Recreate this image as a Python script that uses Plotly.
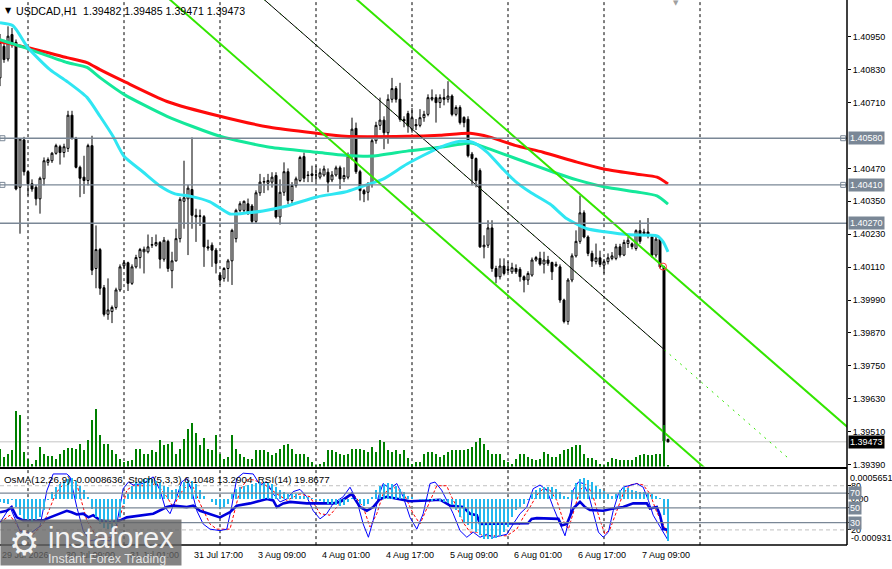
import plotly.graph_objects as go

# ---------------- data ----------------
opens = [1.40800,1.40915,1.40869,1.40958,1.40930,1.40401,1.40574,1.40458,1.40414,1.40401,
1.40359,1.40432,1.40492,1.40498,1.40525,1.40549,1.40528,1.40543,1.40664,1.40579,
1.40474,1.40438,1.40426,1.40553,1.40105,1.40174,1.40035,1.39938,1.39948,1.39963,
1.40027,1.40115,1.40126,1.40051,1.40111,1.40145,1.40166,1.40166,1.40190,1.40190,
1.40200,1.40139,1.40204,1.40097,1.40133,1.40214,1.40350,1.40359,1.40393,1.40299,
1.40295,1.40294,1.40184,1.40190,1.40172,1.40081,1.40069,1.40105,1.40133,1.40214,
1.40317,1.40317,1.40341,1.40333,1.40277,1.40381,1.40420,1.40416,1.40420,1.40444,
1.40293,1.40383,1.40458,1.40353,1.40408,1.40426,1.40513,1.40446,1.40444,1.40446,
1.40438,1.40446,1.40456,1.40428,1.40446,1.40472,1.40432,1.40438,1.40516,1.40616,
1.40458,1.40389,1.40383,1.40414,1.40571,1.40627,1.40646,1.40600,1.40722,1.40761,
1.40722,1.40649,1.40670,1.40613,1.40630,1.40627,1.40655,1.40667,1.40722,1.40728,
1.40710,1.40728,1.40722,1.40734,1.40667,1.40692,1.40656,1.40649,1.40522,1.40506,
1.40462,1.40184,1.40190,1.40253,1.40105,1.40075,1.40114,1.40102,1.40093,1.40105,
1.40102,1.40075,1.40063,1.40081,1.40136,1.40142,1.40121,1.40136,1.40127,1.40115,
1.40111,1.39990,1.39912,1.40063,1.40151,1.40204,1.40308,1.40220,1.40160,1.40130,
1.40144,1.40117,1.40130,1.40142,1.40142,1.40184,1.40154,1.40196,1.40195,1.40178,
1.40243,1.40232,1.40238,1.40220,1.40154,1.40212,1.40111,1.39482]
highs = [1.40960,1.40939,1.40988,1.40982,1.40940,1.40580,1.40585,1.40460,1.40430,1.40410,
1.40440,1.40510,1.40510,1.40530,1.40560,1.40556,1.40560,1.40680,1.40680,1.40585,
1.40480,1.40516,1.40560,1.40589,1.40262,1.40180,1.40045,1.40069,1.39970,1.40035,
1.40120,1.40135,1.40130,1.40120,1.40155,1.40180,1.40185,1.40229,1.40220,1.40229,
1.40205,1.40220,1.40210,1.40166,1.40250,1.40365,1.40498,1.40410,1.40583,1.40323,
1.40320,1.40300,1.40210,1.40200,1.40180,1.40090,1.40110,1.40140,1.40250,1.40323,
1.40350,1.40353,1.40360,1.40340,1.40390,1.40450,1.40438,1.40450,1.40456,1.40456,
1.40430,1.40492,1.40470,1.40420,1.40440,1.40516,1.40528,1.40460,1.40480,1.40480,
1.40470,1.40480,1.40470,1.40460,1.40480,1.40480,1.40474,1.40528,1.40655,1.40637,
1.40465,1.40395,1.40420,1.40580,1.40640,1.40728,1.40660,1.40740,1.40800,1.40770,
1.40782,1.40660,1.40680,1.40690,1.40650,1.40686,1.40680,1.40740,1.40758,1.40740,
1.40740,1.40760,1.40788,1.40740,1.40700,1.40700,1.40660,1.40660,1.40530,1.40510,
1.40470,1.40226,1.40281,1.40281,1.40115,1.40142,1.40142,1.40130,1.40126,1.40120,
1.40110,1.40080,1.40095,1.40145,1.40151,1.40166,1.40166,1.40151,1.40130,1.40130,
1.40120,1.39995,1.40070,1.40160,1.40244,1.40371,1.40317,1.40226,1.40170,1.40196,
1.40170,1.40140,1.40160,1.40165,1.40195,1.40195,1.40210,1.40220,1.40200,1.40248,
1.40281,1.40250,1.40289,1.40230,1.40220,1.40220,1.40115,1.39485]
lows = [1.40770,1.40855,1.40860,1.40910,1.40390,1.40232,1.40444,1.40371,1.40385,1.40335,
1.40305,1.40408,1.40480,1.40490,1.40520,1.40484,1.40510,1.40530,1.40575,1.40470,
1.40365,1.40377,1.40408,1.40081,1.40033,1.40009,1.39930,1.39918,1.39906,1.39955,
1.40020,1.40105,1.40023,1.40045,1.40105,1.40105,1.40087,1.40160,1.40180,1.40185,
1.40105,1.40130,1.40093,1.40033,1.40130,1.40200,1.40250,1.40154,1.40250,1.40202,
1.40260,1.40111,1.40170,1.40111,1.40087,1.40045,1.40057,1.40057,1.40045,1.40200,
1.40310,1.40305,1.40300,1.40270,1.40270,1.40370,1.40380,1.40390,1.40400,1.40287,
1.40265,1.40370,1.40340,1.40340,1.40400,1.40420,1.40420,1.40420,1.40420,1.40420,
1.40430,1.40440,1.40383,1.40420,1.40440,1.40395,1.40420,1.40430,1.40500,1.40450,
1.40353,1.40347,1.40353,1.40400,1.40560,1.40610,1.40540,1.40560,1.40710,1.40710,
1.40640,1.40620,1.40600,1.40600,1.40610,1.40620,1.40640,1.40660,1.40715,1.40637,
1.40690,1.40700,1.40710,1.40660,1.40660,1.40630,1.40620,1.40510,1.40408,1.40401,
1.40180,1.40142,1.40180,1.40093,1.40051,1.40065,1.40080,1.40090,1.40085,1.40085,
1.40057,1.40018,1.40045,1.40075,1.40130,1.40115,1.40087,1.40115,1.40063,1.40110,
1.39980,1.39905,1.39900,1.40055,1.40145,1.40195,1.40215,1.40150,1.40111,1.40120,
1.40110,1.40087,1.40120,1.40135,1.40135,1.40145,1.40150,1.40180,1.40175,1.40170,
1.40195,1.40225,1.40215,1.40145,1.40145,1.40105,1.39470,1.39471]
closes = [1.40930,1.40867,1.40952,1.40921,1.40395,1.40577,1.40458,1.40414,1.40395,1.40359,
1.40434,1.40498,1.40502,1.40525,1.40553,1.40528,1.40549,1.40664,1.40579,1.40474,
1.40434,1.40426,1.40553,1.40099,1.40174,1.40033,1.39938,1.39954,1.39963,1.40027,
1.40111,1.40126,1.40051,1.40111,1.40145,1.40174,1.40175,1.40184,1.40192,1.40200,
1.40139,1.40208,1.40105,1.40133,1.40214,1.40357,1.40363,1.40398,1.40299,1.40293,
1.40297,1.40184,1.40180,1.40172,1.40124,1.40063,1.40105,1.40133,1.40244,1.40317,
1.40341,1.40350,1.40311,1.40277,1.40381,1.40420,1.40422,1.40426,1.40438,1.40293,
1.40383,1.40458,1.40353,1.40408,1.40432,1.40510,1.40434,1.40444,1.40450,1.40446,
1.40454,1.40468,1.40420,1.40446,1.40472,1.40432,1.40444,1.40516,1.40613,1.40458,
1.40389,1.40377,1.40414,1.40571,1.40627,1.40646,1.40600,1.40722,1.40761,1.40722,
1.40649,1.40643,1.40625,1.40655,1.40625,1.40655,1.40667,1.40728,1.40728,1.40710,
1.40728,1.40722,1.40734,1.40667,1.40692,1.40637,1.40637,1.40516,1.40506,1.40426,
1.40184,1.40190,1.40253,1.40105,1.40075,1.40114,1.40087,1.40099,1.40108,1.40093,
1.40075,1.40063,1.40087,1.40136,1.40145,1.40121,1.40136,1.40124,1.40093,1.40120,
1.39990,1.39912,1.40063,1.40151,1.40204,1.40308,1.40220,1.40160,1.40132,1.40144,
1.40120,1.40130,1.40144,1.40151,1.40184,1.40154,1.40200,1.40208,1.40185,1.40243,
1.40204,1.40238,1.40226,1.40154,1.40212,1.40111,1.39476,1.39473]
bars = list(range(len(closes)))

volumes = [18,10,13,17,56,52,15,8,3,7,20,13,11,11,8,13,17,19,19,18,23,17,27,47,58,32,23,23,17,13,
8,5,6,7,18,18,13,13,17,15,27,22,23,25,13,18,28,38,44,34,22,29,18,17,32,13,8,10,32,18,
13,10,8,8,17,17,17,15,12,14,18,22,23,18,13,13,13,10,5,2,3,5,17,17,15,13,12,13,18,18,
18,17,15,20,15,27,25,17,15,17,13,17,9,3,5,5,13,15,15,13,10,12,15,17,17,17,17,18,20,25,
29,23,17,13,13,13,7,5,3,8,13,13,10,8,7,8,15,13,10,10,13,17,18,20,22,22,13,9,9,7,
3,2,5,9,8,7,7,7,7,10,12,13,12,12,13,13,42,2]

osma = [-0.000067,-0.000088,-0.000101,-0.000034,-0.000169,-0.000337,-0.000404,-0.000438,-0.000472,-0.000438,
-0.000371,-0.000236,-0.000034,0.000135,0.000236,0.000303,0.000371,0.000404,0.000425,0.000357,
0.000270,0.000169,0.000034,-0.000202,-0.000371,-0.000506,-0.000586,-0.000607,-0.000586,-0.000506,
-0.000371,-0.000101,0.000101,0.000270,0.000337,0.000371,0.000404,0.000425,0.000404,0.000371,
0.000317,0.000270,0.000249,0.000169,0.000202,0.000270,0.000337,0.000371,0.000357,0.000303,
0.000169,0.000067,0.000005,-0.000067,-0.000135,-0.000202,-0.000169,-0.000101,0.000101,0.000202,
0.000236,0.000270,0.000290,0.000303,0.000317,0.000337,0.000337,0.000324,0.000303,0.000236,
0.000169,0.000135,0.000101,0.000101,0.000088,0.000067,0.000047,0.000034,0.000020,-0.000020,
-0.000047,-0.000067,-0.000101,-0.000115,-0.000135,-0.000155,-0.000135,-0.000067,0.000007,-0.000034,
-0.000101,-0.000155,-0.000101,0.000034,0.000169,0.000270,0.000303,0.000317,0.000303,0.000270,
0.000202,0.000135,0.000067,0.000034,0.000005,-0.000020,-0.000034,-0.000034,-0.000047,-0.000034,
-0.000047,-0.000067,-0.000088,-0.000135,-0.000236,-0.000371,-0.000472,-0.000539,-0.000607,-0.000674,
-0.000741,-0.000809,-0.000809,-0.000809,-0.000789,-0.000762,-0.000674,-0.000573,-0.000371,-0.000236,
-0.000169,-0.000101,-0.000020,0.000088,0.000182,0.000222,0.000236,0.000236,0.000249,0.000202,
0.000135,0.000047,0.000034,0.000169,0.000317,0.000404,0.000425,0.000384,0.000337,0.000270,
0.000202,0.000155,0.000101,0.000067,0.000088,0.000169,0.000236,0.000222,0.000182,0.000155,
0.000135,0.000135,0.000115,0.000088,0.000067,0.000010,-0.000337,-0.0008636]

# moving averages, read at sample bars
ma200_x = [0,7,16.75,21.75,25,31,41.75,55,67.5,79.25,86.25,101.75,110,117.5,122.5,128.75,135.75,144.25,151.25,159.25,164.25,167]
ma200_y = [1.40932,1.40910,1.40874,1.40856,1.40830,1.40787,1.40714,1.40660,1.40620,1.40598,1.40587,1.40587,1.40591,1.40598,1.40584,1.40554,1.40529,1.40493,1.40467,1.40449,1.40438,1.40413]
ma100_x = [0,7,16.75,21.75,25,31,41.75,55,67.5,79.25,86.25,93.25,101.75,110,116.75,118.25,122.5,128.75,138.25,144.25,151.25,159.25,164.25,167]
ma100_y = [1.40939,1.40906,1.40856,1.40838,1.40801,1.40740,1.40660,1.40587,1.40547,1.40529,1.40518,1.40515,1.40533,1.40547,1.40562,1.40562,1.40540,1.40507,1.40457,1.40428,1.40402,1.40384,1.40370,1.40340]
ma50_x = [0,3.25,7,12.5,16.75,21.75,25,28.25,31,35.75,40,43.75,47.5,52.5,57.5,61.75,65.75,71.75,79.25,86.25,90,95.75,101.75,110,115,118.25,121.75,125.75,128.75,132.5,137.5,141.75,146.75,151.25,157.5,164.25,165.75,167]
ma50_y = [1.41001,1.40990,1.40910,1.40830,1.40787,1.40729,1.40660,1.40587,1.40514,1.40457,1.40406,1.40377,1.40369,1.40348,1.40304,1.40308,1.40315,1.40333,1.40366,1.40384,1.40402,1.40431,1.40486,1.40547,1.40569,1.40565,1.40529,1.40467,1.40424,1.40384,1.40340,1.40286,1.40250,1.40239,1.40228,1.40224,1.40203,1.40166]

# channel / trend lines (two anchor points each)
chanA_x = [40, 180]
chanA_y = [1.41117, 1.39329]
chanB_x = [85, 215]
chanB_y = [1.41139, 1.39487]
trend_x = [66, 166.25]
trend_y = [1.41086, 1.39807]
trendext_x = [66, 197.5]
trendext_y = [1.41086, 1.39408]

levels = [1.40580, 1.40410, 1.40270]
bid = 1.39473
alert_x, alert_y = 165.75, 1.40112

# indicator window samples
stoch_x = [0,2.5,3.75,5,7.5,10,11.7,13.3,16.7,17.5,19.2,20.8,22.5,24.2,27.5,29.2,30.8,32.1,33.3,35.8,
38.3,40,41.25,42.5,44.2,45.4,46.7,47.9,49.2,50.8,52.5,55,56.7,57.9,59.2,60.8,63.3,65,66.7,68.3,
70,71.7,73.3,75,76.7,78.3,80,81.7,83.3,85.8,87.5,89.2,90.8,92.1,93.3,94.6,95.8,97.5,99.2,100.8,
102.5,104.2,105.8,107.5,108.75,110.4,111.7,113.3,115,116.7,118.3,120,121.7,123.3,125,126.7,128.3,130,131.7,133.3,
135,136.7,138.3,140,141.25,142.5,143.3,144.6,145.8,147.1,148.3,149.6,150.8,152.1,153.3,154.6,155.8,157.5,159.2,160.8,
162.1,163.3,164.6,165.8,167]
stoch_main = [30,51,35,18,15,25,73,96,96,92,51,19,5,7,5,28,76,85,81,83,
92,74,51,42,65,85,90,74,46,28,21,19,21,51,90,97,96,81,85,69,
58,62,72,75,65,46,35,42,56,65,78,60,28,10,33,65,83,76,83,65,
37,21,42,83,85,74,60,42,19,10,17,10,14,10,12,14,28,42,51,76,
81,74,51,28,12,40,74,85,83,69,42,17,10,17,46,69,78,81,83,78,
60,40,28,17,6]
signal_x = [0,2.5,5,8,11,14,16.7,19.2,21.7,24.2,28.3,30,31.7,33.3,36.7,39.2,41.7,43.3,45,46.7,
48.3,50,52.5,54.2,57.5,58.3,60,61.7,63.3,65.8,69.2,71.7,75,77.5,80,82.5,85,88.3,90.8,92.5,
94.2,95.8,98.3,100.8,103.3,105,107.5,109.2,111.7,112.5,114.2,115.8,117.5,119.2,120.8,123.3,126.7,129.2,130.8,132.5,
134.2,135.8,137.5,139.2,140.8,142.1,143.3,145,146.7,148.3,150,151.25,152.5,154.2,155.8,157.5,159.2,160.8,162.5,164.2,
165.8,167]
stoch_signal = [30,40,20,12,30,70,88,82,33,10,10,37,74,80,80,83,65,51,69,80,
78,56,28,21,21,37,74,88,88,83,69,60,69,65,42,40,56,69,51,24,
42,69,78,71,42,28,60,80,80,69,51,30,17,17,12,12,12,21,37,51,
67,76,74,60,33,21,42,74,83,65,33,14,21,46,69,81,83,81,69,44,
28,13]
rsi_x = [0,1.7,2.9,4.2,5.8,8.3,10.8,12.5,15,16.7,17.9,19.2,20.8,22.1,23.3,25,27.5,30,31.7,35,
38.3,41.7,43.3,46.7,48.3,50,53.3,55,57.5,59.2,62.5,65,66.7,68.3,69.2,70.8,72.5,76.7,79.2,83.3,
85,87.9,90,91.7,93.3,95,96.7,100,102.5,106.7,110,112.5,115.8,117.5,119.2,120,122.5,126.7,132,132.9,
134.2,139.6,140.4,141.7,143.3,145,146.25,147.5,150.8,153.3,155.8,158.3,161.7,162.5,164.2,165,165.8,167]
rsi = [44,46,51,37,33,33,33,37,42,46,44,41,42,37,40,33,30,33,37,40,
42,51,53,51,53,46,40,37,44,53,56,60,62,60,51,56,58,56,56,56,
58,69,51,46,51,62,65,62,59,60,61,53,51,42,40,28,28,29,29,35,
36,35,26,28,49,58,51,47,46,49,51,56,56,49,51,40,21,20]

time_label_bars = [0, 16, 32, 48, 64, 80, 96, 112, 128, 144, 160]
time_labels = ["29 Jul 2026", "30 Jul 09:00", "31 Jul 01:00", "31 Jul 17:00", "3 Aug 09:00",
               "4 Aug 01:00", "4 Aug 17:00", "5 Aug 09:00", "6 Aug 01:00", "6 Aug 17:00", "7 Aug 09:00"]
day_start_bars = [7, 31, 55, 79, 103, 127, 151, 175]

price_ticks = [1.40950, 1.40830, 1.40710, 1.40470, 1.40350, 1.40230, 1.40110,
               1.39990, 1.39870, 1.39750, 1.39630, 1.39510, 1.39390]
osma_max, osma_min = 0.0005651, -0.000931
osc_levels_solid = [70, 50, 30]
osc_levels_dash = [80, 20]

# ---------------- layout geometry ----------------
W, H = 892, 569
XR = 847 / W
def py(px):
    return (H - px) / H

FONT = "Liberation Sans"
SLATE = "#7a8796"

fig = go.Figure()

fig.add_trace(go.Bar(x=bars, y=volumes, yaxis="y2", xaxis="x", width=0.28,
                     marker=dict(color="#008000", line=dict(width=0)), hoverinfo="skip"))

fig.add_trace(go.Candlestick(
    x=bars, open=opens, high=highs, low=lows, close=closes, xaxis="x", yaxis="y",
    increasing=dict(line=dict(color="black", width=1), fillcolor="white"),
    decreasing=dict(line=dict(color="black", width=1), fillcolor="black"),
    whiskerwidth=0, hoverinfo="skip"))

for xs, ys, col in [(ma200_x, ma200_y, "#ff0a0a"), (ma100_x, ma100_y, "#14e89a"), (ma50_x, ma50_y, "#2fe6f2")]:
    fig.add_trace(go.Scatter(x=xs, y=ys, mode="lines", line=dict(color=col, width=3, shape="spline", smoothing=0.6),
                             xaxis="x", yaxis="y", hoverinfo="skip"))

LIME = "#33e600"
fig.add_trace(go.Scatter(x=chanA_x, y=chanA_y, mode="lines", line=dict(color=LIME, width=2), hoverinfo="skip"))
fig.add_trace(go.Scatter(x=chanB_x, y=chanB_y, mode="lines", line=dict(color=LIME, width=2), hoverinfo="skip"))
fig.add_trace(go.Scatter(x=trendext_x, y=trendext_y, mode="lines", line=dict(color=LIME, width=1, dash="2px,5px"), hoverinfo="skip"))
fig.add_trace(go.Scatter(x=trend_x, y=trend_y, mode="lines", line=dict(color="black", width=1), hoverinfo="skip"))

fig.add_trace(go.Scatter(x=[0.6, 0.6, 210.8, 210.8], y=[levels[0], levels[1], levels[0], levels[1]], mode="markers",
                         marker=dict(symbol="square-open", size=5, color=SLATE, line=dict(width=1)), hoverinfo="skip"))
fig.add_trace(go.Scatter(x=[alert_x], y=[alert_y], mode="markers",
                         marker=dict(symbol="circle-open", size=7, color="#ff3030", line=dict(width=1)), hoverinfo="skip"))

# indicator window
fig.add_trace(go.Bar(x=bars, y=osma, yaxis="y4", xaxis="x", width=0.72,
                     marker=dict(color="#22b8ee", line=dict(width=0)), hoverinfo="skip"))
fig.add_trace(go.Scatter(x=signal_x, y=stoch_signal, yaxis="y3", mode="lines",
                         line=dict(color="#ff0000", width=1, dash="3px,2px"), hoverinfo="skip"))
fig.add_trace(go.Scatter(x=stoch_x, y=stoch_main, yaxis="y3", mode="lines",
                         line=dict(color="#0000ff", width=1), hoverinfo="skip"))
fig.add_trace(go.Scatter(x=rsi_x, y=rsi, yaxis="y3", mode="lines",
                         line=dict(color="#0000dd", width=2.6), hoverinfo="skip"))

shapes = []
for b in day_start_bars:
    shapes.append(dict(type="line", xref="x", yref="paper", x0=b, x1=b, y0=py(548), y1=1,
                       line=dict(color="black", width=1, dash="3px,3px"), layer="below"))
for lv in levels:
    shapes.append(dict(type="line", xref="paper", yref="y", x0=0, x1=XR, y0=lv, y1=lv,
                       line=dict(color=SLATE, width=1.3), layer="above"))
shapes.append(dict(type="line", xref="paper", yref="y", x0=0, x1=XR, y0=bid, y1=bid,
                   line=dict(color="#c4c4c4", width=1), layer="below"))
for lv in osc_levels_solid:
    shapes.append(dict(type="line", xref="paper", yref="y3", x0=0, x1=XR, y0=lv, y1=lv,
                       line=dict(color=SLATE, width=1.3), layer="above"))
for lv in osc_levels_dash:
    shapes.append(dict(type="line", xref="paper", yref="y3", x0=0, x1=XR, y0=lv, y1=lv,
                       line=dict(color="#c0c0c0", width=1, dash="4px,3px"), layer="below"))
# window frames
shapes.append(dict(type="line", xref="paper", yref="paper", x0=0, x1=XR, y0=py(470.5), y1=py(470.5),
                   line=dict(color="black", width=2)))
shapes.append(dict(type="line", xref="paper", yref="paper", x0=0, x1=XR, y0=py(548), y1=py(548),
                   line=dict(color="black", width=1.5)))
shapes.append(dict(type="line", xref="paper", yref="paper", x0=XR, x1=XR, y0=py(548), y1=1,
                   line=dict(color="black", width=1.5)))

ann = []
# title
ann.append(dict(text="▼", xref="paper", yref="paper", x=3 / W, y=py(11), xanchor="left", yanchor="middle",
                showarrow=False, font=dict(family="DejaVu Sans", size=8, color="black")))
ann.append(dict(text="USDCAD,H1  1.39482 1.39485 1.39471 1.39473", xref="paper", yref="paper",
                x=14 / W, y=py(11), xanchor="left", yanchor="middle", showarrow=False,
                font=dict(family=FONT, size=10.6, color="black")))
ann.append(dict(text="▼", xref="paper", yref="paper", x=676 / W, y=py(3), xanchor="center", yanchor="middle",
                showarrow=False, font=dict(family="DejaVu Sans", size=7, color="#a0a0a0")))
ann.append(dict(text="OsMA(12,26,9) -0.0008636  Stoch(5,3,3) 6.1048 13.2904  RSI(14) 19.8677",
                xref="paper", yref="paper", x=2 / W, y=py(482), xanchor="left", yanchor="middle",
                showarrow=False, font=dict(family=FONT, size=9.8, color="black")))
# price boxes
for lv in levels:
    ann.append(dict(text=f"{lv:.5f}", xref="paper", yref="y", x=848 / W, y=lv, xanchor="left", yanchor="middle",
                    showarrow=False, bgcolor=SLATE, borderpad=1, font=dict(family=FONT, size=9, color="white")))
ann.append(dict(text=f"{bid:.5f}", xref="paper", yref="y", x=848 / W, y=bid, xanchor="left", yanchor="middle",
                showarrow=False, bgcolor="black", borderpad=1, font=dict(family=FONT, size=9, color="white")))
# indicator axis labels
ann.append(dict(text=f"{osma_max:.7f}", xref="paper", yref="y4", x=848 / W, y=osma_max, xanchor="left",
                yanchor="top", showarrow=False, font=dict(family=FONT, size=9, color="black")))
ann.append(dict(text="0.00", xref="paper", yref="y4", x=849 / W, y=0, xanchor="left",
                yanchor="middle", showarrow=False, font=dict(family=FONT, size=9, color="black")))
ann.append(dict(text=f"{osma_min:.6f}", xref="paper", yref="y4", x=849 / W, y=osma_min, xanchor="left",
                yanchor="bottom", showarrow=False, font=dict(family=FONT, size=9, color="black")))
for lv in osc_levels_dash:
    ann.append(dict(text=str(lv), xref="paper", yref="y3", x=849 / W, y=lv, xanchor="left", yanchor="middle",
                    showarrow=False, font=dict(family=FONT, size=9, color="black")))
for lv in osc_levels_solid:
    ann.append(dict(text=str(lv), xref="paper", yref="y3", x=848 / W, y=lv, xanchor="left", yanchor="middle",
                    showarrow=False, bgcolor=SLATE, borderpad=1, font=dict(family=FONT, size=9, color="white")))
# time labels
for b, t in zip(time_label_bars, time_labels):
    ann.append(dict(text=t, xref="x", yref="paper", x=b, y=py(557.5), xanchor="left", yanchor="middle",
                    showarrow=False, font=dict(family=FONT, size=9, color="black")))
# logo overlay
ann.append(dict(text=" ", xref="paper", yref="paper", x=0, y=0, xanchor="left", yanchor="bottom",
                width=180, height=45, bgcolor="rgba(100,100,100,0.80)", borderpad=0, showarrow=False))
ann.append(dict(text="⚙", xref="paper", yref="paper", x=24 / W, y=py(546), xanchor="center", yanchor="middle",
                showarrow=False, font=dict(family="DejaVu Sans", size=34, color="rgba(255,255,255,0.92)")))
ann.append(dict(text="instaforex", xref="paper", yref="paper", x=46 / W, y=py(541), xanchor="left", yanchor="middle",
                showarrow=False, font=dict(family=FONT, size=29, color="rgba(255,255,255,0.92)")))
ann.append(dict(text="Instant Forex Trading", xref="paper", yref="paper", x=46 / W, y=py(562), xanchor="left",
                yanchor="middle", showarrow=False, font=dict(family=FONT, size=12.5, color="rgba(235,235,235,0.95)")))

fig.update_layout(
    width=W, height=H, margin=dict(l=0, r=0, t=0, b=0), autosize=False,
    paper_bgcolor="white", plot_bgcolor="white", showlegend=False, hovermode=False,
    bargap=0,
    xaxis=dict(domain=[0, XR], range=[0, 211.75], anchor="y3", showgrid=False, zeroline=False,
               showticklabels=False, ticks="", rangeslider=dict(visible=False), fixedrange=True),
    yaxis=dict(domain=[py(469), 1], range=[1.39383, 1.41084], side="right", anchor="x",
               tickvals=price_ticks, ticktext=[f"{v:.5f}" for v in price_ticks],
               ticks="outside", ticklen=3, tickcolor="black", showgrid=False, zeroline=False,
               showline=False, tickfont=dict(family=FONT, size=9, color="black")),
    yaxis2=dict(overlaying="y", range=[0, 469], visible=False),
    yaxis3=dict(domain=[py(547.5), py(473.5)], range=[0, 100], anchor="x", side="right",
                showgrid=False, zeroline=False, showticklabels=False, tickvals=[20, 30, 50, 70, 80],
                ticks="outside", ticklen=3, tickcolor="black"),
    yaxis4=dict(overlaying="y3", range=[osma_min, osma_max], visible=False),
    shapes=shapes, annotations=ann,
)

fig.write_html("out.html", config={"displayModeBar": False, "staticPlot": True},
               post_script="document.body.style.margin='0px';document.body.style.overflow='hidden';")
